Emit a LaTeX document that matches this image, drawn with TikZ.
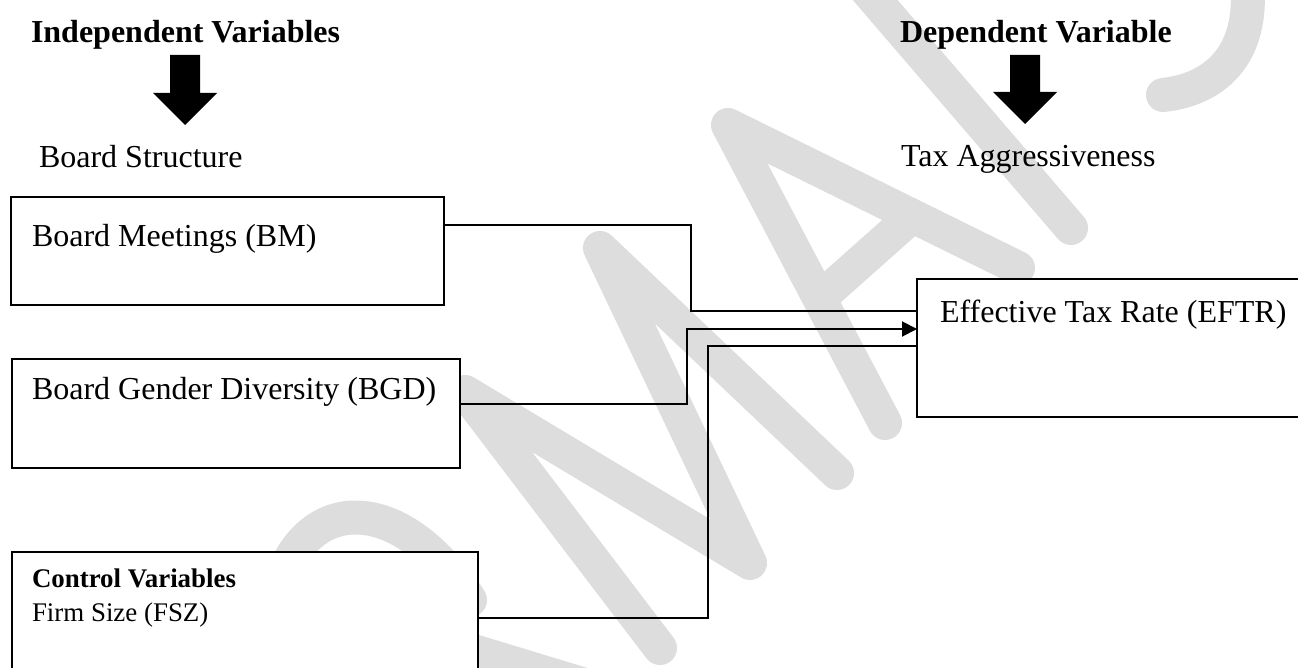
\documentclass[tikz,border=0pt]{standalone}
\usepackage{fontspec}
\setmainfont{Liberation Serif}
\usetikzlibrary{arrows.meta}
\definecolor{wm}{RGB}{221,221,221}
\begin{document}
\begin{tikzpicture}[x=1pt,y=-1pt,
  box/.style={draw=black, line width=2pt, fill=white, rectangle, inner sep=0pt, outer sep=0pt, anchor=north west},
  txt/.style={inner sep=0pt, outer sep=0pt, anchor=base west, font=\fontsize{32}{38}\selectfont},
  smalltxt/.style={inner sep=0pt, outer sep=0pt, anchor=base west, font=\fontsize{26.9}{32}\selectfont},
  conn/.style={line width=2pt, line join=miter},
  blockarrow/.style={fill=black},
  wmark/.style={draw=wm, line width=34pt, line cap=round, line join=round}]
\useasboundingbox (0,0) rectangle (1298,668);
\clip (0,0) rectangle (1298,668);
\fill[white] (0,0) rectangle (1298,668);

% watermark
\draw[wmark] (660,648) -- (465,392) -- (750,563) -- (600,248) -- (837,473);
\draw[wmark] (885,423) -- (728,125) -- (1018,268);
\draw[wmark] (820,298) -- (910,218);
\draw[wmark] (858,-20) -- (1071,228);
\draw[wmark] (1247,-20) .. controls (1255,60) and (1210,90) .. (1163,95);
\draw[wmark] (275,600) .. controls (300,490) and (400,490) .. (470,600);
\draw[wmark] (470,650) -- (700,720);

% headings
\node[txt, font=\fontsize{32}{38}\selectfont\bfseries] (iv) at (31,43) {Independent Variables};
\node[txt, font=\fontsize{32}{38}\selectfont\bfseries] (dv) at (900,43) {Dependent Variable};
\fill[blockarrow] (170,55) -- (200,55) -- (200,93) -- (217,93) -- (185,125) -- (153,93) -- (170,93) -- cycle;
\fill[blockarrow] (1010,55) -- (1040,55) -- (1040,92) -- (1057,92) -- (1025,124) -- (993,92) -- (1010,92) -- cycle;
\node[txt] (bs) at (39,168) {Board Structure};
\node[txt] (ta) at (901,167) {Tax Aggressiveness};

% boxes
\node[box, minimum width=433pt, minimum height=108pt] (bm) at (11,197) {};
\node[box, minimum width=448pt, minimum height=109pt] (bgd) at (12,359) {};
\node[box, minimum width=466pt, minimum height=148pt] (fsz) at (12,552) {};
\node[box, minimum width=403pt, minimum height=138pt] (eftr) at (917,279) {};

\node[txt] (bmt) at (32,247) {Board Meetings (BM)};
\node[txt] (bgdt) at (32,399) {Board Gender Diversity (BGD)};
\node[smalltxt, font=\fontsize{26.9}{32}\selectfont\bfseries] (cvt) at (32,587) {Control Variables};
\node[smalltxt] (fszt) at (32,621) {Firm Size (FSZ)};
\node[txt] (eftrt) at (940,322) {Effective Tax Rate (EFTR)};

% connectors
\draw[conn] ([yshift=26pt]bm.east) -- ++(247,0) |- ([yshift=37pt]eftr.west);
\draw[conn, -{Triangle[length=15pt,width=15pt]}] ([yshift=9.5pt]bgd.east) -- ++(227,0) |- ([yshift=19pt]eftr.west);
\draw[conn] ([yshift=8pt]fsz.east) -- ++(230,0) |- ([yshift=2pt]eftr.west);
\end{tikzpicture}
\end{document}
